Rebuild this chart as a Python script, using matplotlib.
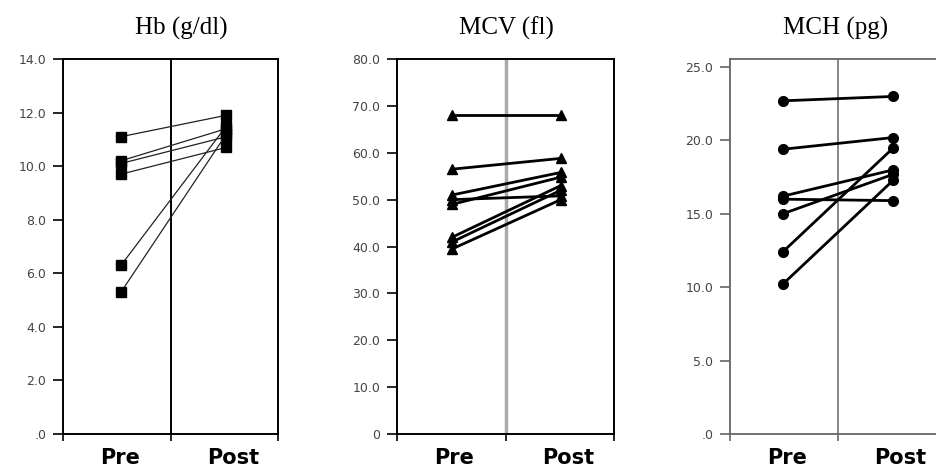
import matplotlib
matplotlib.use("Agg")
import matplotlib.pyplot as plt

# ---- data ----
groups = ["Pre", "Post"]
titles = ["Hb (g/dl)", "MCV (fl)", "MCH (pg)"]

hb_pre = [11.1, 10.2, 10.1, 9.7, 6.3, 5.3]
hb_post = [11.9, 11.4, 11.1, 10.7, 11.5, 11.2]

mcv_pre = [68.0, 56.5, 51.0, 50.0, 49.0, 42.0, 41.0, 39.5]
mcv_post = [68.0, 58.8, 55.8, 50.8, 54.8, 53.0, 52.0, 50.0]

mch_pre = [22.7, 19.4, 16.2, 16.0, 15.0, 12.4, 10.2]
mch_post = [23.0, 20.2, 18.0, 15.9, 17.7, 19.5, 17.3]

hb_ticks = [0, 2, 4, 6, 8, 10, 12, 14]
hb_ticklabels = [".0", "2.0", "4.0", "6.0", "8.0", "10.0", "12.0", "14.0"]
mcv_ticks = [0, 10, 20, 30, 40, 50, 60, 70, 80]
mcv_ticklabels = ["0", "10.0", "20.0", "30.0", "40.0", "50.0", "60.0", "70.0", "80.0"]
mch_ticks = [0, 5, 10, 15, 20, 25]
mch_ticklabels = [".0", "5.0", "10.0", "15.0", "20.0", "25.0"]

W, H = 936, 472
fig = plt.figure(figsize=(W / 100, H / 100), dpi=100)

panels = [
    dict(pre=hb_pre, post=hb_post, ticks=hb_ticks, labels=hb_ticklabels, ylim=(0, 14),
         left=63, width=215, marker="s", ms=7, lw=0.9, lc="#222222", xs=(0.54, 1.52),
         spine="black", slw=1.4, mid="black", mlw=1.4, title_x=181),
    dict(pre=mcv_pre, post=mcv_post, ticks=mcv_ticks, labels=mcv_ticklabels, ylim=(0, 80),
         left=397, width=217, marker="^", ms=7, lw=2.0, lc="black", xs=(0.51, 1.51),
         spine="black", slw=1.4, mid="#aaaaaa", mlw=2.5, title_x=506),
    dict(pre=mch_pre, post=mch_post, ticks=mch_ticks, labels=mch_ticklabels, ylim=(0, 25.55),
         left=730, width=215, marker="o", ms=7, lw=2.0, lc="black", xs=(0.49, 1.52),
         spine="#666666", slw=1.3, mid="#666666", mlw=1.1, title_x=836),
]

bottom_px, top_px = 434, 59
for i, p in enumerate(panels):
    ax = fig.add_axes([p["left"] / W, 1 - bottom_px / H, p["width"] / W, (bottom_px - top_px) / H])
    ax.set_xlim(0, 2)
    ax.set_ylim(*p["ylim"])
    for a, b in zip(p["pre"], p["post"]):
        ax.plot(list(p["xs"]), [a, b], color=p["lc"], lw=p["lw"], marker=p["marker"],
                ms=p["ms"], mfc="black", mec="black", zorder=3, clip_on=False)
    ax.axvline(1, color=p["mid"], lw=p["mlw"], zorder=1)
    for s in ax.spines.values():
        s.set_color(p["spine"])
        s.set_linewidth(p["slw"])
    ax.set_yticks(p["ticks"])
    ax.set_yticklabels(p["labels"], fontsize=9, color="#444444", family="DejaVu Sans")
    ax.tick_params(axis="y", direction="out", length=7, width=1.2, color=p["spine"], pad=5)
    ax.set_xticks([0, 1, 2])
    ax.set_xticklabels(["", "", ""])
    ax.tick_params(axis="x", direction="out", length=5, width=1.2, color=p["spine"])
    ax.set_xticks([0.53, 1.58], minor=True)
    ax.set_xticklabels(groups, minor=True, fontsize=15, fontweight="bold", family="DejaVu Sans")
    ax.tick_params(axis="x", which="minor", length=0, pad=10)
    fig.text(p["title_x"] / W, 1 - 35 / H, titles[i], ha="center", va="baseline",
             fontsize=18, family="Liberation Serif")

fig.savefig("out.png", dpi=100, facecolor="white")
